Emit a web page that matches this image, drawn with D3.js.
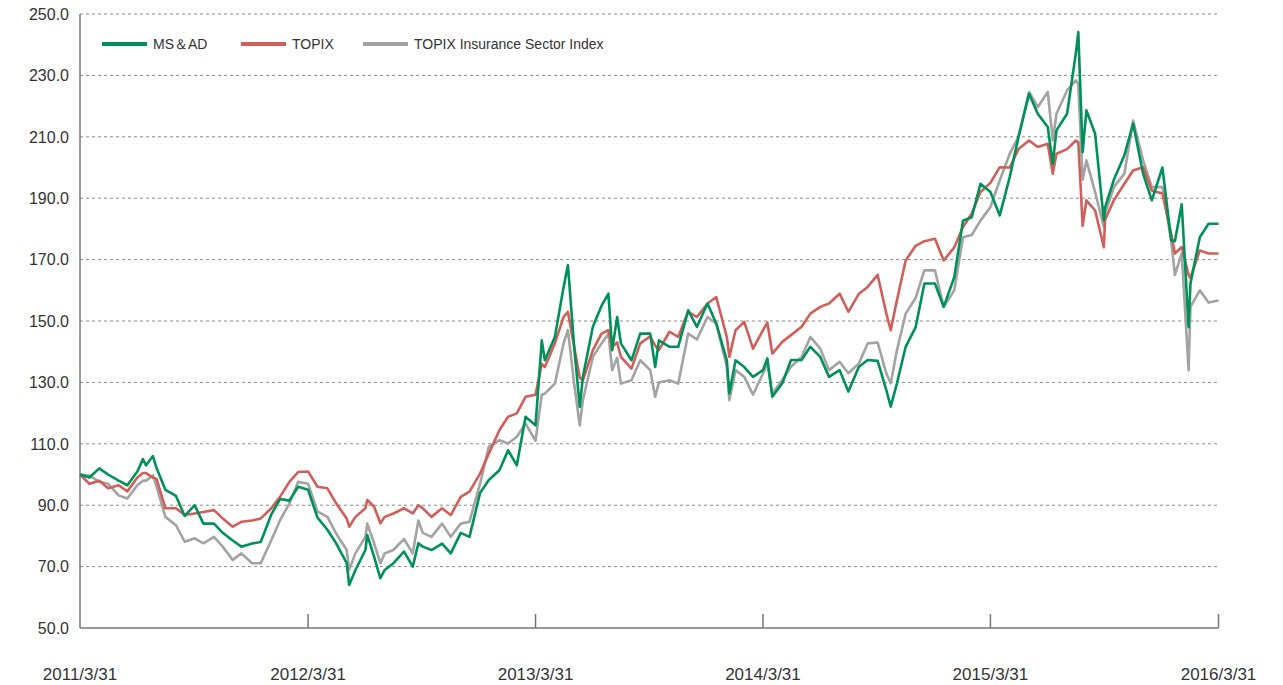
<!DOCTYPE html>
<html>
<head>
<meta charset="utf-8">
<script src="https://cdn.jsdelivr.net/npm/d3@7"></script>
<style>
  html, body { margin: 0; padding: 0; background: #fff; }
  svg { display: block; }
  text { font-family: "Liberation Sans", Arial, Helvetica, sans-serif; fill: #333; }
</style>
</head>
<body>
<svg id="chart" width="1283" height="685"></svg>
<script>
const dates = [
  "2011-03-31","2011-04-15","2011-05-01","2011-05-15","2011-06-01","2011-06-15","2011-07-01","2011-07-10","2011-07-15","2011-07-26",
  "2011-08-01","2011-08-15","2011-09-01","2011-09-15","2011-10-01","2011-10-15","2011-11-01","2011-11-15","2011-12-01","2011-12-15",
  "2012-01-01","2012-01-15","2012-02-01","2012-02-15","2012-03-01","2012-03-15","2012-03-31",
  "2012-04-15","2012-05-01","2012-05-15","2012-06-01","2012-06-05","2012-06-15","2012-07-01","2012-07-04","2012-07-15","2012-07-25",
  "2012-08-01","2012-08-15","2012-09-01","2012-09-15","2012-09-24","2012-10-01","2012-10-15","2012-11-01","2012-11-15","2012-12-01","2012-12-15",
  "2013-01-01","2013-01-15","2013-02-01","2013-02-15","2013-03-01","2013-03-15","2013-03-31",
  "2013-04-10","2013-04-15","2013-05-01","2013-05-15","2013-05-22","2013-06-01","2013-06-10","2013-06-15","2013-07-01","2013-07-15",
  "2013-07-26","2013-08-01","2013-08-09","2013-08-15","2013-09-01","2013-09-15","2013-10-01","2013-10-09","2013-10-15","2013-11-01","2013-11-15","2013-12-01",
  "2013-12-15","2014-01-01","2014-01-15","2014-02-01","2014-02-05","2014-02-15","2014-03-01","2014-03-15","2014-03-31",
  "2014-04-07","2014-04-15","2014-05-01","2014-05-15","2014-06-01","2014-06-15","2014-07-01","2014-07-15","2014-08-01","2014-08-15",
  "2014-09-01","2014-09-15","2014-10-01","2014-10-15","2014-10-22","2014-11-01","2014-11-15","2014-12-01","2014-12-15",
  "2015-01-01","2015-01-15","2015-02-01","2015-02-15","2015-03-01","2015-03-15","2015-03-31",
  "2015-04-15","2015-05-01","2015-05-15","2015-06-01","2015-06-15","2015-07-01","2015-07-09","2015-07-15","2015-08-01","2015-08-15",
  "2015-08-19","2015-08-26","2015-09-01","2015-09-15","2015-09-29","2015-10-01","2015-10-15","2015-11-01","2015-11-15","2015-12-01","2015-12-15",
  "2016-01-01","2016-01-15","2016-01-21","2016-02-01","2016-02-12","2016-02-15","2016-03-01","2016-03-15","2016-03-31"
];

const msad = [
  100,99,102,100,98,96.5,101,105,103,106,102,95,93,86.5,90,84,84,81,78.5,76.5,77.5,78,87,92,91.5,96,95,
  86,82,77.6,71.1,64,68.9,75.4,80.3,73.2,66.2,68.9,71.1,74.9,70,77.6,76.5,75.4,77.5,74.3,81,79.7,94,98.2,101.4,107.9,103,118.8,116,
  143.7,137.2,144.8,161,168.2,141.6,122,131.8,148.1,155,158.9,140.5,151.3,142.7,137.2,145.9,145.9,135,143.7,141.6,141.6,153.5,148.1,155.7,149.2,137.2,126.4,137.2,135,131.8,134,
  137.8,125.3,129.7,137.3,137.3,141.6,138.3,131.8,134,127,135.1,137.3,137,127.5,122.1,129.7,141.6,148,162.2,162.2,154.6,164.3,182.7,183.8,194.7,192,
  184.4,196.9,209.9,224,217.5,213.2,201.2,212.1,217.5,237.1,244.1,205,218.6,211,182.8,187,196,204,214.3,198,189.3,200,176.3,176,188,148,162.2,177.3,181.7,181.7
];

const topix = [
  100,97,98,95.5,96.5,94.5,99,100.5,100.5,99,98.5,89,89,86.8,87.3,87.8,88.4,85.7,83,84.6,85,85.7,89,92.7,97.6,100.8,101,
  96,95.5,90.6,85.7,83,86.2,89,91.7,89.5,84.1,86.2,87.3,89,87.3,90,89,86.2,89,86.8,92.7,94.4,100.3,106.8,114.4,118.8,119.9,125.3,126,
  136,135,142.7,151.3,153,141.6,131.5,130.7,140.5,145.9,147,141.6,143,138.3,134.5,142.7,145,142,140.5,146.5,144.8,153,151.3,155.7,157.8,144.8,138.3,147,149.7,141,147,
  149.5,139.4,143.2,145.4,148.1,152.4,154.6,155.7,158.9,153,158.9,161.1,165,152.4,147,156.8,169.7,174.5,176,176.8,169.7,174,180.6,185,192,195,
  200.1,200,206,208.8,206.7,207.7,198,204.5,206,208.8,208.3,181,189.3,186,174,183,189.3,194.7,199,200.1,192.5,191.5,178.4,172,174.1,165,164,173,172,172
];

const insurance = [
  100,99.7,97.6,97,93.2,92.2,96.5,98,98,99.7,96,86.2,83.5,78.1,79.2,77.6,79.7,76.5,72.2,74.3,71.1,71.1,78.6,85.1,90.5,97.6,97,
  88,86.2,80.8,75.4,69,74.3,79.7,84,77.6,71.1,74.3,75.4,79,74.3,85,81,79.7,84,79.7,84,84.6,97,109,111.2,110.1,112.3,116.6,111,
  126,126.4,129.6,142.7,147,129.6,116,124.2,138.3,142.7,145.9,134,138,129.6,130.7,137.2,134,125.3,130,130.7,129.6,145.9,144,151.3,149.2,135,124.2,134,131.8,126,132.9,
  136.2,126.4,130.8,135.1,138.3,144.8,141,134,136.7,133,136.2,142.7,143,132.9,129.7,140.5,152.4,157.5,166.5,166.5,154.6,160,177.3,178,182.7,187.1,
  195.8,204.5,210,224.6,219.7,224.6,208.8,217.5,225.1,228.4,227.3,196,202.3,192,180.6,185,193.6,198,215.3,202.3,193.6,193.6,176.3,165,172,134,154.6,160,156,156.7
];

const seriesNames = ["MS＆AD", "TOPIX", "TOPIX Insurance Sector Index"];
const seriesColors = ["#00905a", "#cf5f58", "#a3a3a3"];
const yTicks = [50, 70, 90, 110, 130, 150, 170, 190, 210, 230, 250];
const xTickLabels = ["2011/3/31", "2012/3/31", "2013/3/31", "2014/3/31", "2015/3/31", "2016/3/31"];

if (msad.length !== dates.length || topix.length !== dates.length || insurance.length !== dates.length) {
  console.error("length mismatch", dates.length, msad.length, topix.length, insurance.length);
}

const parse = d3.timeParse("%Y-%m-%d");
const parseLabel = d3.timeParse("%Y/%m/%d");
const dateObjs = dates.map(parse);
const xTickDates = xTickLabels.map(parseLabel);

const svg = d3.select("#chart");
const M = { left: 80, right: 1218.5, top: 14, bottom: 628 };

const x = d3.scaleTime()
  .domain([xTickDates[0], xTickDates[xTickDates.length - 1]])
  .range([M.left, M.right]);
const y = d3.scaleLinear().domain([50, 250]).range([M.bottom, M.top]);

// grid lines
svg.append("g").selectAll("line")
  .data(yTicks.filter(v => v > 50))
  .join("line")
  .attr("x1", M.left).attr("x2", M.right)
  .attr("y1", d => y(d)).attr("y2", d => y(d))
  .attr("stroke", "#8a8a8a").attr("stroke-width", 1)
  .attr("stroke-dasharray", "3,3");

// y labels
svg.append("g").selectAll("text")
  .data(yTicks)
  .join("text")
  .attr("x", 69).attr("y", d => y(d))
  .attr("dy", "0.36em")
  .attr("text-anchor", "end")
  .style("font-size", "16px")
  .text(d => d.toFixed(1));

// axes lines
const axisColor = "#777";
svg.append("line").attr("x1", M.left).attr("x2", M.left).attr("y1", M.top).attr("y2", M.bottom)
  .attr("stroke", axisColor).attr("stroke-width", 1.5);
svg.append("line").attr("x1", M.left).attr("x2", M.right).attr("y1", M.bottom).attr("y2", M.bottom)
  .attr("stroke", axisColor).attr("stroke-width", 1.5);

// x ticks
svg.append("g").selectAll("line")
  .data(xTickDates.slice(1))
  .join("line")
  .attr("x1", d => x(d)).attr("x2", d => x(d))
  .attr("y1", M.bottom).attr("y2", M.bottom - 14)
  .attr("stroke", axisColor).attr("stroke-width", 1.5);

// x labels
svg.append("g").selectAll("text")
  .data(xTickLabels)
  .join("text")
  .attr("x", (d, i) => x(xTickDates[i]))
  .attr("y", 680)
  .attr("text-anchor", "middle")
  .style("font-size", "17px")
  .text(d => d);

// lines
const line = d3.line()
  .x((d, i) => x(dateObjs[i]))
  .y(d => y(d));

const seriesData = [msad, topix, insurance];
[2, 1, 0].forEach(k => {
  svg.append("path")
    .datum(seriesData[k])
    .attr("fill", "none")
    .attr("stroke", seriesColors[k])
    .attr("stroke-width", 2.6)
    .attr("stroke-linejoin", "round")
    .attr("d", line);
});

// legend
const legendX = [102, 241, 363];
const legend = svg.append("g");
seriesNames.forEach((name, k) => {
  legend.append("line")
    .attr("x1", legendX[k]).attr("x2", legendX[k] + 45)
    .attr("y1", 44).attr("y2", 44)
    .attr("stroke", seriesColors[k]).attr("stroke-width", 4);
  legend.append("text")
    .attr("x", legendX[k] + 51).attr("y", 44)
    .attr("dy", "0.36em")
    .style("font-size", "14px")
    .text(name);
});
</script>
</body>
</html>
